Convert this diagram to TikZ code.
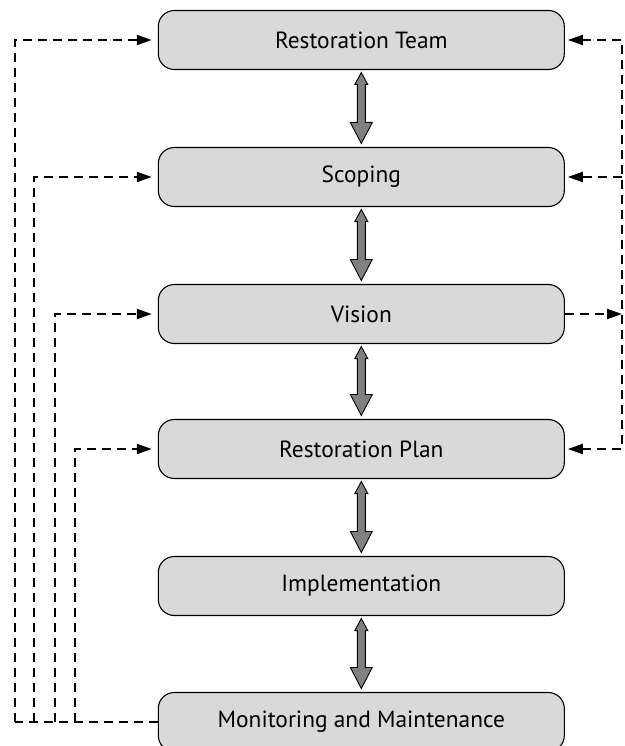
\documentclass[tikz,border=0pt]{standalone}
\usepackage{fontspec}
\setmainfont{PT Sans}
\usetikzlibrary{arrows.meta,calc}
\definecolor{boxfill}{RGB}{217,217,217}
\definecolor{arrfill}{RGB}{128,128,128}
\tikzset{
  stage/.style={draw=black, line width=1.1pt, fill=boxfill, rounded corners=16pt,
    minimum width=406pt, minimum height=59pt, inner sep=0pt,
    font=\fontsize{23.4}{27}\selectfont},
  fb/.style={line width=2pt, dash pattern=on 9pt off 6pt},
  tip/.tip={Triangle[length=15pt,width=10pt]},
  fbarrow/.style={fb, -tip},
  blockarr/.style={draw=black, line width=0.9pt, fill=arrfill, line join=miter},
}
\newcommand{\dblarrow}[2]{%
  \coordinate (T) at ($(#1.south)+(0,2.5)$);
  \coordinate (B) at ($(#2.north)+(0,-3.5)$);
  \draw[blockarr] (T) -- ($(T)+(6.5,12)$) -- ($(T)+(4,12)$) -- ($(B)+(4,-21)$)
    -- ($(B)+(11,-21)$) -- (B) -- ($(B)+(-11,-21)$) -- ($(B)+(-4,-21)$)
    -- ($(T)+(-4,12)$) -- ($(T)+(-6.5,12)$) -- cycle;
}
\begin{document}
\begin{tikzpicture}[x=1pt,y=-1pt]
\useasboundingbox (0,0) rectangle (624,746);
\node[stage] (team)   at (361.3,40)  {Restoration Team};
\node[stage] (scope)  at (361.3,177) {Scoping};
\node[stage] (vision) at (361.3,314) {Vision};
\node[stage] (plan)   at (361.3,449) {Restoration Plan};
\node[stage] (impl)   at (361.3,586) {Implementation};
\node[stage] (mon)    at (361.3,722) {Monitoring and Maintenance};

\dblarrow{team}{scope}
\dblarrow{scope}{vision}
\dblarrow{vision}{plan}
\dblarrow{plan}{impl}
\dblarrow{impl}{mon}

% left feedback lines
\coordinate (l1) at (14.7,722);
\coordinate (l2) at (34.2,722);
\coordinate (l3) at (54.5,722);
\coordinate (l4) at (74.8,722);
\draw[fb] (mon.west) -- (l1);
\draw[fbarrow, shorten >=6pt] (l1) |- (team.west);
\draw[fbarrow, shorten >=6pt] (l2) |- (scope.west);
\draw[fbarrow, shorten >=6pt] (l3) |- (vision.west);
\draw[fbarrow, shorten >=6pt] (l4) |- (plan.west);

% right feedback lines
\coordinate (rx) at (622,0);
\draw[fb, tip-tip, shorten <=3pt, shorten >=3pt] (team.east) -| (plan.east -| rx) -- (plan.east);
\draw[fbarrow, shorten >=3pt] (scope.east -| rx) -- (scope.east);
\draw[fbarrow] (vision.east) -- (vision.east -| rx);
\end{tikzpicture}
\end{document}
